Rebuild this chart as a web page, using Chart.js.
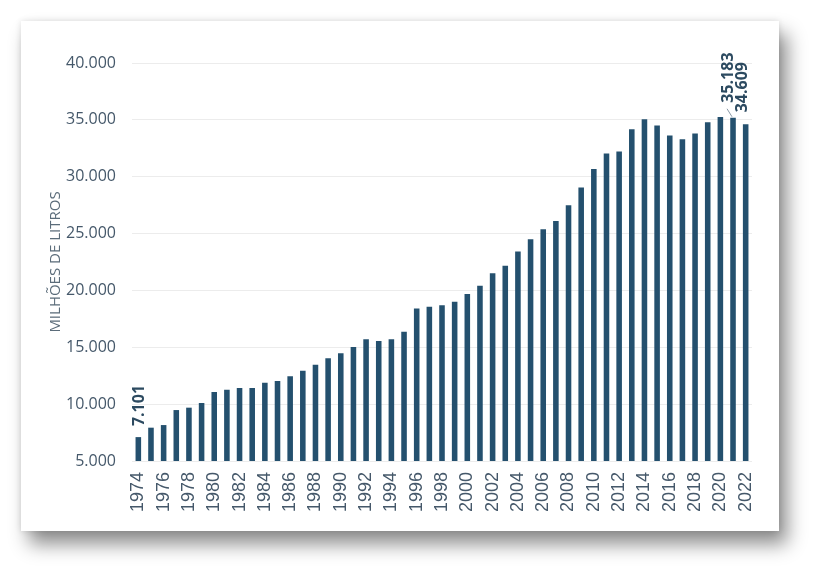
<!DOCTYPE html>
<html>
<head>
<meta charset="utf-8">
<script src="https://cdn.jsdelivr.net/npm/chart.js@4.4.0/dist/chart.umd.min.js"></script>
<style>
  html, body { margin: 0; padding: 0; background: #ffffff; }
  body { width: 821px; height: 573px; position: relative; overflow: hidden; }
  #card { position: absolute; left: 21px; top: 21px; width: 758px; height: 510px; background: #fff;
          box-shadow: 0 0 6px rgba(0,0,0,0.12), 8px 13px 18px rgba(0,0,0,0.45); }
  #c { position: absolute; left: 0; top: 0; }
</style>
</head>
<body>
<div id="card"></div>
<canvas id="c" width="821" height="573"></canvas>
<script>
// ---- Data ----
const years = ['1974','1975','1976','1977','1978','1979','1980','1981','1982','1983','1984','1985','1986','1987','1988','1989','1990','1991','1992','1993','1994','1995','1996','1997','1998','1999','2000','2001','2002','2003','2004','2005','2006','2007','2008','2009','2010','2011','2012','2013','2014','2015','2016','2017','2018','2019','2020','2021','2022'];
const volumes = [7101, 7930, 8160, 9480, 9690, 10100, 11070, 11270, 11420, 11420, 11880, 12030, 12450, 12940, 13470, 14030, 14470, 15020, 15700, 15550, 15700, 16370, 18420, 18560, 18690, 19000, 19680, 20410, 21500, 22170, 23430, 24510, 25370, 26100, 27500, 29060, 30670, 32050, 32220, 34180, 35060, 34510, 33630, 33300, 33800, 34800, 35260, 35183, 34609];
const labelledYears = ['1974', '2021', '2022'];
const yTicks = [5000, 10000, 15000, 20000, 25000, 30000, 35000, 40000];
const yTitle = 'MILHÕES DE LITROS';

function fmt(v) { return String(v).replace(/\B(?=(\d{3})+(?!\d))/g, '.'); }

const textColor = '#45586a';
const barColor = '#24506e';

const labelPlugin = {
  id: 'valueLabels',
  afterDatasetsDraw(chart) {
    const ctx = chart.ctx;
    const meta = chart.getDatasetMeta(0);
    const styleFor = {
      '1974': { dx: 1, gap: 11, leader: false },
      '2021': { dx: -5, gap: 15, leader: true },
      '2022': { dx: -3, gap: 12, leader: false }
    };
    labelledYears.forEach(y => {
      const i = years.indexOf(y);
      const el = meta.data[i];
      const s = styleFor[y];
      const x = el.x + s.dx;
      const top = el.y;
      ctx.save();
      if (s.leader) {
        ctx.strokeStyle = '#8a99a6';
        ctx.lineWidth = 1;
        ctx.beginPath();
        ctx.moveTo(el.x - 1, top - 1);
        ctx.lineTo(x - 1, top - s.gap + 6);
        ctx.stroke();
      }
      ctx.translate(x, top - s.gap);
      ctx.rotate(-Math.PI / 2);
      ctx.font = 'bold 16px "Open Sans"';
      ctx.fillStyle = '#2c4a60';
      ctx.textAlign = 'left';
      ctx.textBaseline = 'middle';
      ctx.fillText(fmt(volumes[i]), 0, 0);
      ctx.restore();
    });
  }
};

new Chart(document.getElementById('c'), {
  type: 'bar',
  data: {
    labels: years,
    datasets: [{
      data: volumes,
      backgroundColor: barColor,
      barPercentage: 0.44,
      categoryPercentage: 1.0
    }]
  },
  options: {
    responsive: false,
    devicePixelRatio: 1,
    animation: false,
    layout: { padding: { left: 20, right: 69, top: 63, bottom: 52 } },
    plugins: { legend: { display: false }, tooltip: { enabled: false } },
    scales: {
      x: {
        offset: true,
        grid: { display: false, drawTicks: false },
        border: { display: false },
        ticks: {
          autoSkip: false,
          maxRotation: 90,
          minRotation: 90,
          padding: 11,
          color: textColor,
          font: { family: '"Liberation Sans", Arial, sans-serif', size: 18 },
          callback: function (v, i) { return i % 2 === 0 ? years[i] : ''; }
        },
        afterFit: s => { s.height = 60; }
      },
      y: {
        min: 5000,
        max: 40000,
        afterBuildTicks: s => { s.ticks = yTicks.map(v => ({ value: v })); },
        grid: { color: '#ececec', lineWidth: 1, drawTicks: false },
        border: { display: false },
        ticks: {
          padding: 16,
          color: textColor,
          font: { family: '"Open Sans"', size: 16 },
          callback: v => fmt(v)
        },
        title: {
          display: true,
          text: yTitle,
          color: '#5b6c7a',
          font: { family: '"Open Sans"', size: 15 },
          padding: { top: 27, bottom: 0 }
        },
        afterFit: s => { s.width = 112; }
      }
    }
  },
  plugins: [labelPlugin]
});
</script>
</body>
</html>
